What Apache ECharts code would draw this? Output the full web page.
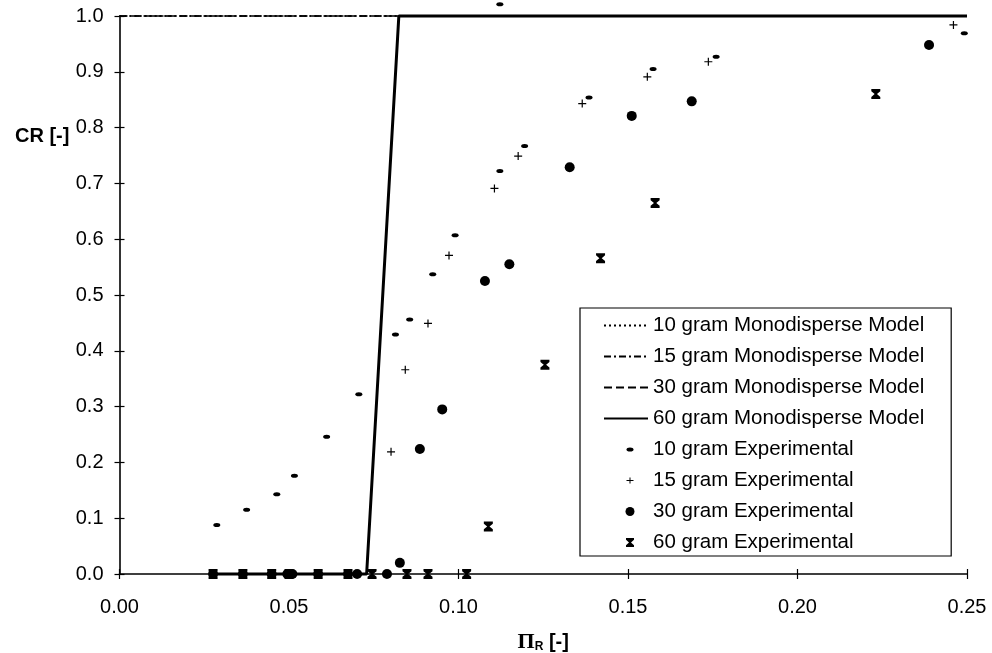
<!DOCTYPE html>
<html>
<head>
<meta charset="utf-8">
<script src="https://cdn.jsdelivr.net/npm/echarts@6/dist/echarts.min.js"></script>
<style>
html,body{margin:0;padding:0;background:#fff;}
#chart{width:992px;height:653px;}
</style>
</head>
<body>
<div id="chart"></div>
<script>
// ---- data (Π_R, CR) ----
const xTicks = [0.00, 0.05, 0.10, 0.15, 0.20, 0.25];
const yTicks = [0.0, 0.1, 0.2, 0.3, 0.4, 0.5, 0.6, 0.7, 0.8, 0.9, 1.0];

const model10 = [[0, 1], [0.25, 1]];
const model15 = [[0, 1], [0.25, 1]];
const model30 = [[0, 1], [0.25, 1]];
const model60 = [[0.0276, 0], [0.0729, 0], [0.0824, 1], [0.25, 1]];

const exp10 = [
  [0.0287, 0.088], [0.0375, 0.115], [0.0464, 0.143], [0.0516, 0.176], [0.0611, 0.246],
  [0.0706, 0.322], [0.0814, 0.429], [0.0856, 0.456], [0.0924, 0.537], [0.0990, 0.607],
  [0.1122, 0.722], [0.1195, 0.767], [0.1385, 0.854], [0.1574, 0.905], [0.1122, 1.021],
  [0.1760, 0.927], [0.2492, 0.969]
];
const exp15 = [
  [0.0801, 0.219], [0.0843, 0.366], [0.0910, 0.449], [0.0972, 0.571], [0.1106, 0.691],
  [0.1176, 0.749], [0.1365, 0.843], [0.1557, 0.891], [0.1737, 0.918], [0.2460, 0.984]
];
const exp30 = [
  [0.0276, 0], [0.0364, 0], [0.0449, 0], [0.0495, 0], [0.0510, 0], [0.0586, 0],
  [0.0674, 0], [0.0701, 0], [0.0789, 0],
  [0.0827, 0.020], [0.0886, 0.224], [0.0952, 0.295], [0.1078, 0.525], [0.1150, 0.555],
  [0.1328, 0.729], [0.1511, 0.821], [0.1688, 0.847], [0.2388, 0.948]
];
const exp60 = [
  [0.0276, 0], [0.0364, 0], [0.0449, 0], [0.0500, 0], [0.0586, 0], [0.0674, 0],
  [0.0745, 0], [0.0848, 0], [0.0910, 0], [0.1024, 0],
  [0.1088, 0.085], [0.1255, 0.375], [0.1419, 0.566], [0.1580, 0.665], [0.2231, 0.860]
];

const names = [
  '10 gram Monodisperse Model', '15 gram Monodisperse Model',
  '30 gram Monodisperse Model', '60 gram Monodisperse Model',
  '10 gram Experimental', '15 gram Experimental',
  '30 gram Experimental', '60 gram Experimental'
];

// ---- symbols ----
const plusSym = 'path://M3.4,0h1.2v3.4h3.4v1.2h-3.4v3.4h-1.2v-3.4h-3.4v-1.2h3.4z';
const hourSym = 'path://M0,0H10V2.2L6.3,5L10,7.8V10H0V7.8L3.7,5L0,2.2Z';
// legend icons padded to a 44x14 box
const PAD = 'M0,0M44,14';
const icon10 = 'path://' + PAD + 'M22.5,7a3.5,2 0 1,0 7,0a3.5,2 0 1,0 -7,0z';
const icon15 = 'path://' + PAD + 'M25.5,4h1v2.5h3v1h-3v2.5h-1v-2.5h-3v-1h3z';
const icon30 = 'path://' + PAD + 'M21.5,7a4.5,4.5 0 1,0 9,0a4.5,4.5 0 1,0 -9,0z';
const icon60 = 'path://' + PAD + 'M22,2.5H30V4.2L27,7L30,9.8V11.5H22V9.8L25,7L22,4.2Z';

const FONT = 'Liberation Sans, Arial, sans-serif';
const chart = echarts.init(document.getElementById('chart'), null, {renderer: 'canvas'});

const hideSym = {color: 'rgba(0,0,0,0)', borderWidth: 0, opacity: 0};
const common = {min: 0, max: 0.25, interval: 0.05};
const option = {
  animation: false,
  backgroundColor: '#ffffff',
  textStyle: {fontFamily: FONT, color: '#000'},
  title: {
    text: 'CR [-]', left: 10, top: 121,
    textStyle: {fontFamily: FONT, fontSize: 20, fontWeight: 'bold', color: '#000'}
  },
  grid: {left: 119.5, right: 25, top: 16, bottom: 79, containLabel: false, outerBoundsMode: 'none'},
  legend: {
    orient: 'vertical', left: 580, top: 308,
    backgroundColor: '#fff',
    borderColor: '#000', borderWidth: 1.2, borderRadius: 0,
    padding: [7, 27, 3, 23],
    itemWidth: 44, itemHeight: 14, itemGap: 10,
    selectedMode: false,
    textStyle: {fontFamily: FONT, fontSize: 20.5, lineHeight: 20, color: '#000'},
    data: [
      {name: names[0], itemStyle: hideSym},
      {name: names[1], itemStyle: hideSym},
      {name: names[2], itemStyle: hideSym},
      {name: names[3], itemStyle: hideSym, lineStyle: {width: 2}},
      {name: names[4], icon: icon10},
      {name: names[5], icon: icon15},
      {name: names[6], icon: icon30},
      {name: names[7], icon: icon60}
    ]
  },
  xAxis: [
    Object.assign({
      type: 'value', position: 'bottom',
      name: '{pi|Π}{sub|R}{b| [-]}',
      nameLocation: 'middle', nameGap: 57,
      nameTextStyle: {
        rich: {
          pi: {fontFamily: 'Liberation Serif, serif', fontSize: 22, fontWeight: 'bold', color: '#000'},
          sub: {fontFamily: FONT, fontSize: 12, fontWeight: 'bold', color: '#000', verticalAlign: 'bottom', padding: [10, 0, 0, 0]},
          b: {fontFamily: FONT, fontSize: 20, fontWeight: 'bold', color: '#000'}
        }
      },
      axisLine: {show: true, onZero: false, lineStyle: {color: '#000', width: 1.6}},
      axisTick: {show: true, inside: false, length: 5, lineStyle: {color: '#000', width: 1.2}},
      axisLabel: {fontFamily: FONT, fontSize: 20, color: '#000', margin: 23,
        formatter: v => v.toFixed(2)},
      splitLine: {show: false}
    }, common),
    Object.assign({
      type: 'value', position: 'bottom', offset: 0,
      axisLine: {show: false},
      axisTick: {show: true, inside: true, length: 5, lineStyle: {color: '#000', width: 1.2}},
      axisLabel: {show: false},
      splitLine: {show: false}
    }, common)
  ],
  yAxis: [
    {
      type: 'value', position: 'left', min: 0, max: 1, interval: 0.1,
      axisLine: {show: true, onZero: false, lineStyle: {color: '#000', width: 1.6}},
      axisTick: {show: true, inside: false, length: 5, lineStyle: {color: '#000', width: 1.2}},
      axisLabel: {fontFamily: FONT, fontSize: 20, color: '#000', margin: 16,
        formatter: v => v.toFixed(1)},
      splitLine: {show: false}
    },
    {
      type: 'value', position: 'left', min: 0, max: 1, interval: 0.1, offset: 0,
      axisLine: {show: false},
      axisTick: {show: true, inside: true, length: 5, lineStyle: {color: '#000', width: 1.2}},
      axisLabel: {show: false},
      splitLine: {show: false}
    }
  ],
  series: [
    {name: names[0], type: 'line', data: model10, symbol: 'none', clip: false,
      lineStyle: {color: '#000', width: 1.5, type: [2, 3]}, itemStyle: {color: '#000'}, z: 2},
    {name: names[1], type: 'line', data: model15, symbol: 'none', clip: false,
      lineStyle: {color: '#000', width: 1.5, type: [7, 3, 2, 3]}, itemStyle: {color: '#000'}, z: 2},
    {name: names[2], type: 'line', data: model30, symbol: 'none', clip: false,
      lineStyle: {color: '#000', width: 1.5, type: [8, 4]}, itemStyle: {color: '#000'}, z: 2},
    {name: names[3], type: 'line', data: model60, symbol: 'none', clip: false,
      lineStyle: {color: '#000', width: 3}, itemStyle: {color: '#000'}, z: 3},
    {name: names[4], type: 'scatter', data: exp10, symbol: 'circle', symbolSize: [7, 4],
      clip: false, itemStyle: {color: '#000', opacity: 1}, z: 5},
    {name: names[5], type: 'scatter', data: exp15, symbol: plusSym, symbolSize: 8,
      clip: false, itemStyle: {color: '#000', opacity: 1}, z: 5},
    {name: names[6], type: 'scatter', data: exp30, symbol: 'circle', symbolSize: 10,
      clip: false, itemStyle: {color: '#000', opacity: 1}, z: 5},
    {name: names[7], type: 'scatter', data: exp60, symbol: hourSym, symbolSize: [9, 10],
      clip: false, itemStyle: {color: '#000', opacity: 1}, z: 5}
  ]
};
chart.setOption(option);
</script>
</body>
</html>
